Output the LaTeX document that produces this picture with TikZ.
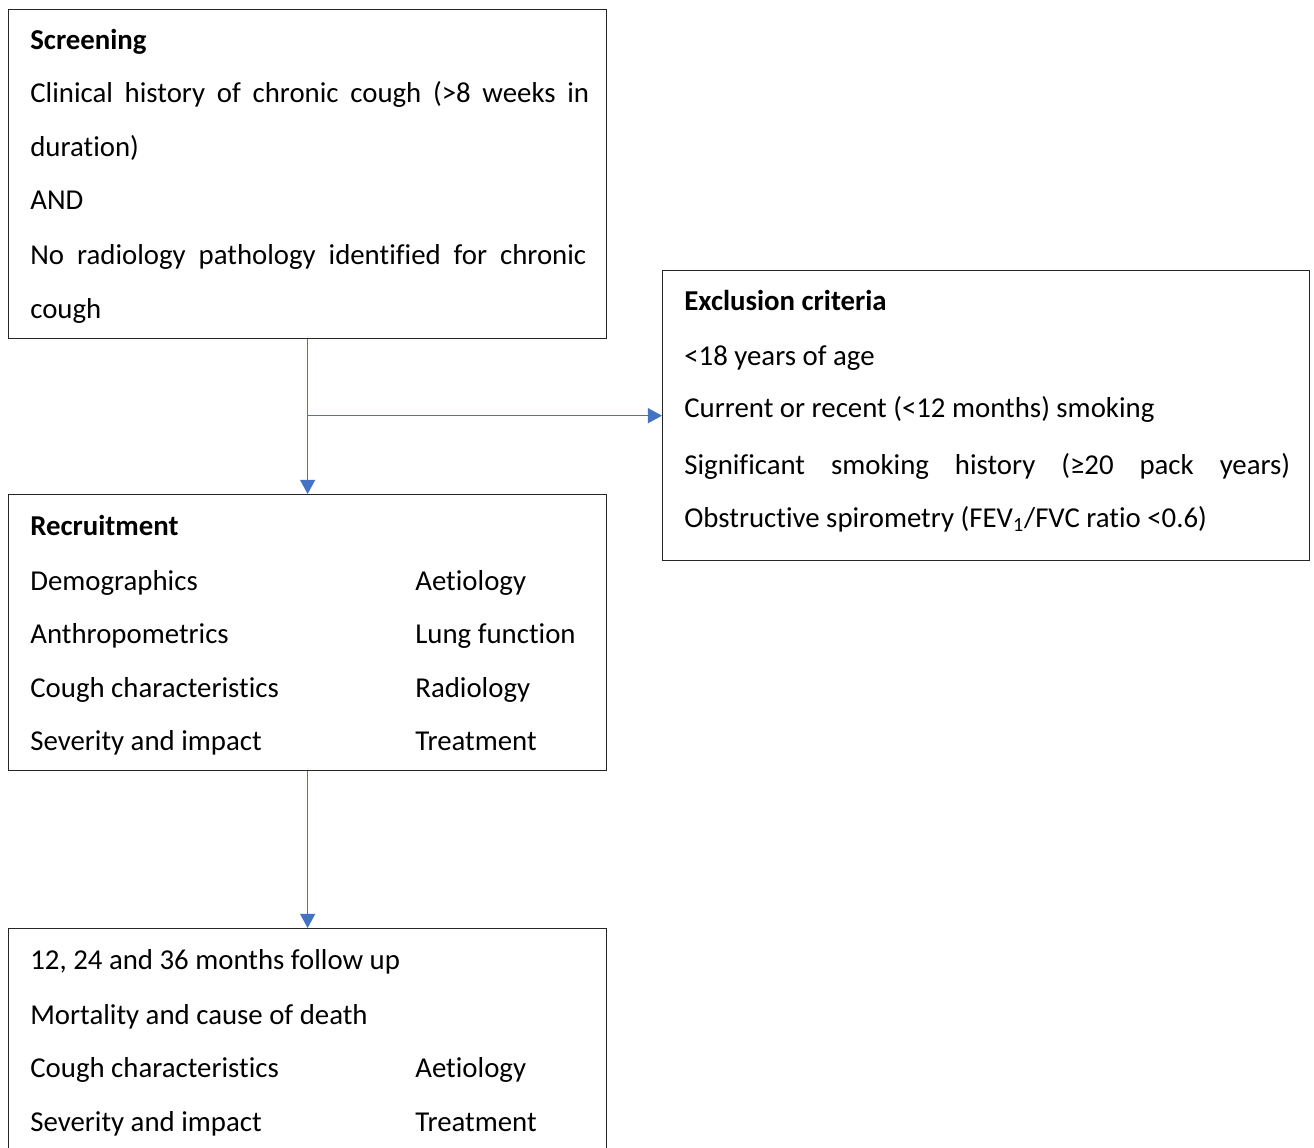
\documentclass[tikz,border=0pt]{standalone}
\usepackage{fontspec}
\setmainfont[Ligatures=NoCommon]{Carlito}
\usetikzlibrary{arrows.meta}
\definecolor{arrblue}{HTML}{4472C4}

\begin{document}
\begin{tikzpicture}[x=0.02cm,y=-0.02cm,
  box/.style={draw=black!85,line width=0.8pt,anchor=north west,inner sep=0pt},
  txt/.style={anchor=base west,inner sep=0pt,font=\fontsize{16.4}{20}\selectfont},
  flow/.style={arrblue,line width=0.8pt,-{Triangle[width=8.5pt,length=8pt]}}]
\clip (0,0) rectangle (1314,1148);

% boxes
\node[box,minimum width=11.96cm,minimum height=6.58cm] (scr) at (8,9) {};
\node[box,minimum width=12.94cm,minimum height=5.8cm] (exc) at (662,270) {};
\node[box,minimum width=11.96cm,minimum height=5.52cm] (rec) at (8,494) {};
\node[box,minimum width=11.96cm,minimum height=4.8cm] (fol) at (8,928) {};

% screening
\node[txt] (scr1) at (30,50) {\textbf{Screening}};
\node[txt] (scr2) at (30,103) {\makebox[11.18cm][s]{Clinical history of chronic cough (>8 weeks in}};
\node[txt] (scr3) at (30,157) {duration)};
\node[txt] (scr4) at (30,210) {AND};
\node[txt] (scr5) at (30,265) {\makebox[11.12cm][s]{No radiology pathology identified for chronic}};
\node[txt] (scr6) at (30,319) {cough};

% exclusion
\node[txt] (exc1) at (684,311) {\textbf{Exclusion criteria}};
\node[txt] (exc2) at (684,366) {<18 years of age};
\node[txt] (exc3) at (684,418) {Current or recent (<12 months) smoking};
\node[txt] (exc4) at (684,474) {\makebox[12.12cm][s]{Significant smoking history (≥20 pack years)}};
\node[txt] (exc5) at (684,527) {Obstructive spirometry (FEV\textsubscript{1}/FVC ratio <0.6)};

% recruitment
\node[txt] (rec1) at (30,535) {\textbf{Recruitment}};
\node[txt] (rec2) at (30,590) {Demographics};
\node[txt] (rec3) at (415,590) {Aetiology};
\node[txt] (rec4) at (30,643) {Anthropometrics};
\node[txt] (rec5) at (415,643) {Lung function};
\node[txt] (rec6) at (30,697) {Cough characteristics};
\node[txt] (rec7) at (415,697) {Radiology};
\node[txt] (rec8) at (30,750) {Severity and impact};
\node[txt] (rec9) at (415,750) {Treatment};

% follow up
\node[txt] (fol1) at (30,969) {12, 24 and 36 months follow up};
\node[txt] (fol2) at (30,1024) {Mortality and cause of death};
\node[txt] (fol3) at (30,1077) {Cough characteristics};
\node[txt] (fol4) at (415,1077) {Aetiology};
\node[txt] (fol5) at (30,1131) {Severity and impact};
\node[txt] (fol6) at (415,1131) {Treatment};

% arrows
\coordinate (br) at (scr.south |- exc.west);
\draw[flow] (scr.south) -- (rec.north);
\draw[flow] (br) -- (exc.west);
\draw[flow] (rec.south) -- (fol.north);

\end{tikzpicture}
\end{document}
